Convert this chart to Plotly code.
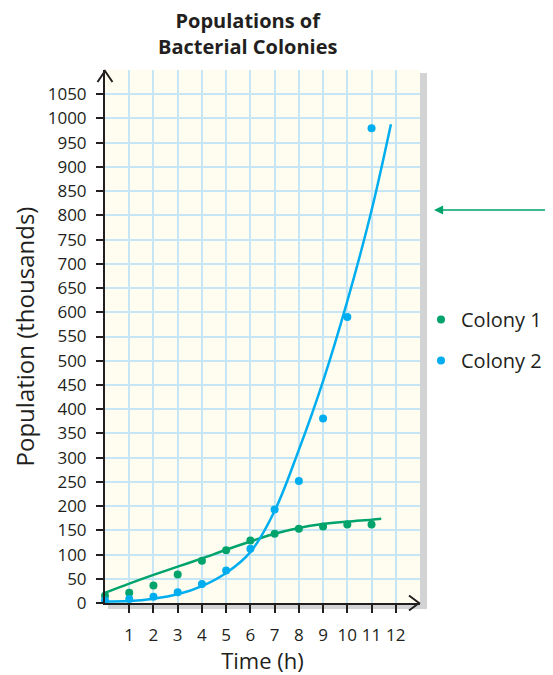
import plotly.graph_objects as go

# ---- data ----
hours = [0, 1, 2, 3, 4, 5, 6, 7, 8, 9, 10, 11]
colony1 = [15, 21, 36, 59, 87, 109, 129, 143, 153, 158, 162, 162]
colony2 = [5, 8, 13, 22, 39, 67, 112, 193, 252, 381, 590, 980]

fit1_x = [0, 1, 2, 3, 4, 5, 6, 7, 8, 9, 10, 11, 11.4]
fit1_y = [21, 40, 58, 75, 92, 110, 127, 143, 155, 163, 168, 172, 174]
fit2_x = [0, 1, 2, 3, 4, 5, 6, 7, 8, 9, 10, 11, 11.8]
fit2_y = [3, 4, 9, 18, 35, 62, 105, 190, 316, 458, 623, 810, 988]

x_ticks = list(range(1, 13))
y_ticks = list(range(0, 1051, 50))

title_lines = ["Populations of", "Bacterial Colonies"]

GREEN = "#00a36c"
BLUE = "#00aeef"
INK = "#231f20"
GRID = "#c6e6f5"
FONT = "Open Sans"

OFF = 8                      # page body margin
W, H = 553 - OFF, 675 - OFF  # figure size
# plot area in page pixels
PL, PR, PT, PB = 105, 420, 70, 603
L, R, T, B = PL - OFF, PR - OFF, PT - OFF, PB - OFF


def px(x, y):
    """page pixel -> paper coords"""
    return (x - PL) / (PR - PL), (PB - y) / (PB - PT)


fig = go.Figure()
fig.add_trace(go.Scatter(x=fit1_x, y=fit1_y, mode="lines", line=dict(color=GREEN, width=2.5, shape="spline"),
                         showlegend=False, hoverinfo="skip"))
fig.add_trace(go.Scatter(x=fit2_x, y=fit2_y, mode="lines", line=dict(color=BLUE, width=2.5, shape="spline"),
                         showlegend=False, hoverinfo="skip"))
fig.add_trace(go.Scatter(x=hours, y=colony1, mode="markers", name="Colony 1",
                         marker=dict(color=GREEN, size=8), legendgroup="a", cliponaxis=False))
fig.add_trace(go.Scatter(x=hours, y=colony2, mode="markers", name="Colony 2",
                         marker=dict(color=BLUE, size=8), legendgroup="b", cliponaxis=False))

shapes = []
# shadow on right and bottom
x0, y0 = px(420, 73)
x1, y1 = px(427, 609)
shapes.append(dict(type="rect", xref="paper", yref="paper", x0=x0, x1=x1, y0=y1, y1=y0,
                   fillcolor="#d1d3d4", line=dict(width=0), layer="below"))
x0, y0 = px(108, 603)
x1, y1 = px(427, 609)
shapes.append(dict(type="rect", xref="paper", yref="paper", x0=x0, x1=x1, y0=y1, y1=y0,
                   fillcolor="#d1d3d4", line=dict(width=0), layer="below"))
# axis arrowheads (open chevrons)
a = px(97.5, 82); b = px(105, 71); c = px(112.5, 82)
shapes.append(dict(type="path", xref="paper", yref="paper",
                   path=f"M {a[0]},{a[1]} L {b[0]},{b[1]} L {c[0]},{c[1]}",
                   line=dict(color=INK, width=2)))
a = px(409, 595.5); b = px(419, 603); c = px(409, 610.5)
shapes.append(dict(type="path", xref="paper", yref="paper",
                   path=f"M {a[0]},{a[1]} L {b[0]},{b[1]} L {c[0]},{c[1]}",
                   line=dict(color=INK, width=2)))

tip = px(434, 210)
annotations = [dict(xref="paper", yref="paper", x=tip[0], y=tip[1], ax=119, ay=0, text="",
                    showarrow=True, arrowhead=2, arrowsize=1.4, arrowwidth=1.3, arrowcolor=GREEN)]
p = px(248, 33)
annotations.append(dict(xref="paper", yref="paper", x=p[0], y=p[1], xanchor="center", yanchor="middle",
                        text="<b>" + "<br>".join(title_lines) + "</b>", showarrow=False,
                        font=dict(family=FONT, size=20, color=INK)))

fig.update_layout(
    width=W, height=H,
    margin=dict(l=L, r=W - R, t=T, b=H - B, autoexpand=False),
    paper_bgcolor="white", plot_bgcolor="#fffdf0",
    font=dict(family=FONT, color=INK, size=17),
    shapes=shapes, annotations=annotations,
    showlegend=True,
    legend=dict(x=px(421, 0)[0], xanchor="left", y=px(0, 300)[1], yanchor="top",
                font=dict(size=20, family=FONT, color=INK), tracegroupgap=12,
                bgcolor="rgba(0,0,0,0)", itemsizing="trace"),
    xaxis=dict(range=[0, 13], tickvals=x_ticks, ticktext=[str(v) for v in x_ticks],
               showgrid=True, gridcolor=GRID, gridwidth=2,
               minor=dict(dtick=1, tick0=0, showgrid=True, gridcolor=GRID, gridwidth=2),
               showline=True, linecolor=INK, linewidth=2, automargin=False,
               ticks="outside", ticklen=8, tickwidth=1.5, tickcolor=INK,
               ticklabelstandoff=8, zeroline=False, fixedrange=True,
               title=dict(text="Time (h)", font=dict(size=22, family=FONT), standoff=6)),
    yaxis=dict(range=[0, 1100], tickvals=y_ticks, ticktext=[str(v) for v in y_ticks],
               showgrid=True, gridcolor=GRID, gridwidth=2,
               minor=dict(dtick=50, tick0=0, showgrid=True, gridcolor=GRID, gridwidth=2),
               showline=True, linecolor=INK, linewidth=2, automargin=False,
               ticks="outside", ticklen=7, tickwidth=1.5, tickcolor=INK,
               ticklabelstandoff=6, zeroline=False, fixedrange=True,
               title=dict(text="Population (thousands)", font=dict(size=24, family=FONT), standoff=8)),
)

fig.write_html("out.html")
